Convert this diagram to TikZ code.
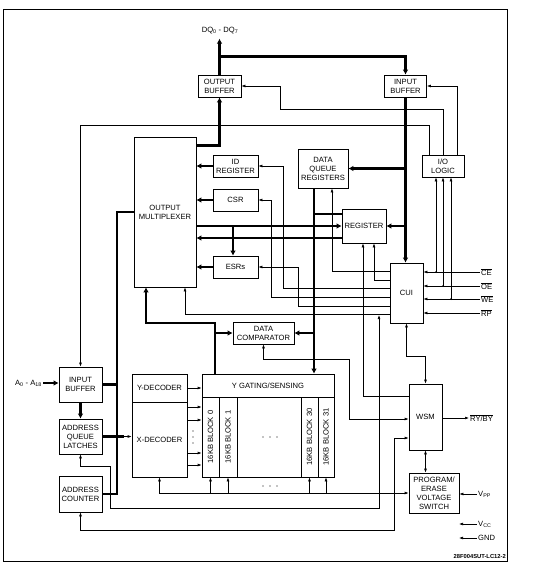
\documentclass[tikz,border=0pt]{standalone}
\usepackage{fontspec}
\setmainfont{Liberation Sans}
\usetikzlibrary{arrows.meta,positioning,calc}

\tikzset{
  box/.style={draw, line width=0.6pt, align=center, inner sep=1pt,
    font=\fontsize{7.6}{9}\selectfont},
  lbl/.style={inner sep=1pt, font=\fontsize{7.6}{9}\selectfont},
  sig/.style={line width=0.6pt},
  bus/.style={line width=2.6pt},
  sigto/.style={-{Latex[length=4pt,width=2.8pt]}},
  sigboth/.style={{Latex[length=4pt,width=2.8pt]}-{Latex[length=4pt,width=2.8pt]}},
  busto/.style={-{Latex[length=5pt,width=5.5pt]}},
}
\newcommand{\ovl}[1]{$\overline{\mbox{#1}}$}

\begin{document}
\begin{tikzpicture}[x=1pt, y=-1pt]
\useasboundingbox (0,0) rectangle (534,570);
\draw[line width=0.6pt] (3,9) rectangle (507,561);

% buffers and registers
\node[box, minimum width=43, minimum height=22] (obuf) at (219.5,86) {OUTPUT\\BUFFER};
\node[box, minimum width=42, minimum height=22] (ibuf) at (405.5,86) {INPUT\\BUFFER};
\node[box, minimum width=62, minimum height=150] (mux) at (165,212) {OUTPUT\\MULTIPLEXER};
\node[box, minimum width=45, minimum height=22] (idreg) at (235.5,166) {ID\\REGISTER};
\node[box, minimum width=45, minimum height=22] (csr) at (235.5,200) {CSR};
\node[box, minimum width=45, minimum height=22] (esr) at (235.5,267) {ESRs};
\node[box, minimum width=50, minimum height=39] (dqr) at (323,168.5) {DATA\\QUEUE\\REGISTERS};
\node[box, minimum width=44, minimum height=34] (reg) at (364,226) {REGISTER};
\node[box, minimum width=42, minimum height=22] (iol) at (443,166) {I/O\\LOGIC};
\node[box, minimum width=33, minimum height=60] (cui) at (406.5,293) {CUI};
\node[box, minimum width=61, minimum height=22] (dcmp) at (263.5,333) {DATA\\COMPARATOR};

% address path
\node[box, minimum width=43, minimum height=35] (aibuf) at (80.5,384.5) {INPUT\\BUFFER};
\node[box, minimum width=43, minimum height=35] (aql) at (80.5,436.5) {ADDRESS\\QUEUE\\LATCHES};
\node[box, minimum width=43, minimum height=36] (acnt) at (80.5,494) {ADDRESS\\COUNTER};
\node[box, minimum width=55, minimum height=28] (ydec) at (159.5,388) {Y-DECODER};
\node[box, minimum width=55, minimum height=75] (xdec) at (159.5,439.5) {X-DECODER};

% array
\node[box, minimum width=132, minimum height=23] (ygs) at (268,385.5) {Y GATING/SENSING};
\node[box, minimum width=17, minimum height=80] (blk0) at (210.5,437) {};
\node[box, minimum width=18, minimum height=80] (blk1) at (228,437) {};
\node[box, minimum width=17, minimum height=80] (blk30) at (309.5,437) {};
\node[box, minimum width=16, minimum height=80] (blk31) at (326,437) {};
\node[lbl, rotate=90] (t0) at (blk0) {16KB BLOCK 0};
\node[lbl, rotate=90] (t1) at (blk1) {16KB BLOCK 1};
\node[lbl, rotate=90] (t30) at (blk30) {16KB BLOCK 30};
\node[lbl, rotate=90] (t31) at (blk31) {16KB BLOCK 31};
\draw[line width=0.6pt] (blk1.south east) -- (blk30.south west);
\foreach \x in {263,270,277} {
  \fill (\x,437) circle (0.6pt);
  \fill (\x,486) circle (0.6pt);
}
\foreach \y in {431,437,443}
  \fill (193,\y) circle (0.6pt);

% state machine
\node[box, minimum width=33, minimum height=66] (wsm) at (425.5,417) {WSM};
\node[box, minimum width=50, minimum height=40] (pevs) at (434,493) {PROGRAM/\\ERASE\\VOLTAGE\\SWITCH};

% pins
\node[lbl] (dqlab) at (220,31) {DQ\textsubscript{0} - DQ\textsubscript{7}};
\node[lbl, anchor=east] (alab) at (43,383) {A\textsubscript{0} - A\textsubscript{18}};
\node[lbl, anchor=west] (ce) at (480,272) {\ovl{CE}};
\node[lbl, anchor=west] (oe) at (480,286) {\ovl{OE}};
\node[lbl, anchor=west] (we) at (480,299) {\ovl{WE}};
\node[lbl, anchor=west] (rp) at (480,313) {\ovl{RP}};
\node[lbl, anchor=west] (ry) at (469,418) {\ovl{RY/BY}};
\node[lbl, anchor=west] (vpp) at (477,494) {V\textsubscript{PP}};
\node[lbl, anchor=west] (vcc) at (477,524) {V\textsubscript{CC}};
\node[lbl, anchor=west] (gnd) at (477,538) {GND};
\node[anchor=east, inner sep=0pt, font=\bfseries\fontsize{5.8}{6}\selectfont] (figid) at (506,556) {28F004SUT-LC12-2};

% data buses
\draw[bus, busto, shorten >=3pt] (obuf.north) -- (obuf.north |- dqlab.south);
\draw[bus, busto] ($(obuf.north)+(0,-18)$) -| (ibuf.north);
\draw[bus, busto] ([yshift=-9pt]mux.north east) -| (obuf.south);
\draw[bus, busto] (ibuf.south) -- (ibuf.south |- cui.north);
\draw[bus, busto] (ibuf.south |- dqr.east) -- (dqr.east);
\draw[bus, busto] (ibuf.south |- reg.east) -- (reg.east);
\draw[bus, busto] (314,0 |- dqr.south) -- (314,0 |- ygs.north);
\draw[bus] (314,214) -- (reg.west |- 0,214);
\draw[bus, busto] (314,0 |- dcmp.east) -- (dcmp.east);
\draw[bus, busto] (mux.east |- reg.west) -- (reg.west);
\draw[bus, busto] (reg.west |- 0,238) -- (mux.east |- 0,238);
\draw[bus, busto] (233,0 |- reg.west) -- (233,0 |- esr.north);
\draw[bus, busto] (idreg.west) -- (mux.east |- idreg.west);
\draw[bus, busto] (csr.west) -- (mux.east |- csr.west);
\draw[bus, busto] (esr.west) -- (mux.east |- esr.west);
\draw[bus, busto] (215,0 |- ygs.north) |- (146,323) -- (146,0 |- mux.south);
\draw[bus, busto] (215,0 |- dcmp.west) -- (dcmp.west);

% address buses
\draw[bus, busto] (alab.east) -- (aibuf.west |- alab.east);
\draw[bus, busto] (aibuf.south) -- (aql.north);
\draw[bus] (aibuf.east) -- (117,0 |- aibuf.east);
\draw[bus] (acnt.east) -| (117,0 |- mux.west) -- (mux.west);
\draw[bus] (aql.east) -- (124,0 |- aql.east);
\draw[sig, sigto] (124,0 |- aql.east) -- (xdec.west |- aql.east);

% i/o logic
\draw[sig, sigto] ([xshift=14pt]iol.north) |- (ibuf.east);
\draw[sig, sigto] (iol.north) |- (280,109) |- (obuf.east);
\draw[sig, sigto] ([xshift=-14pt]iol.north) -- ++(0,-29) -| (aibuf.north);
\foreach \p in {ce,oe,we,rp}
  \draw[sig, sigto] (\p.west) -- (cui.east |- \p.west);
\draw[sig, sigto] ([xshift=-7pt]iol.south |- ce.west) -- ([xshift=-7pt]iol.south);
\draw[sig, sigto] (iol.south |- oe.west) -- (iol.south);
\draw[sig, sigto] ([xshift=8pt]iol.south |- we.west) -- ([xshift=8pt]iol.south);
\fill ([xshift=-7pt]iol.south |- ce.west) circle (1pt)
      (iol.south |- oe.west) circle (1pt)
      ([xshift=8pt]iol.south |- we.west) circle (1pt);

% cui outputs
\draw[sig, sigto] (cui.west |- 0,271) -| (332,0 |- dqr.south);
\draw[sig, sigto] (cui.west |- 0,280) -| (374,0 |- reg.south);
\draw[sig, sigto] (cui.west |- 0,288) -| (283,0 |- idreg.east) -- (idreg.east);
\draw[sig, sigto] (cui.west |- 0,297) -| (271,0 |- csr.east) -- (csr.east);
\draw[sig, sigto] (cui.west |- 0,306) -| (298,0 |- esr.east) -- (esr.east);
\draw[sig, sigto] (cui.west |- 0,314) -| (185,0 |- mux.south);

% wsm
\draw[sig, sigto] (wsm.west |- 0,396) -| (363,0 |- reg.south);
\draw[sig, sigboth] (wsm.west |- 0,419) -| (349,359) -| (dcmp.south);
\draw[sig, sigboth] (cui.south) |- (wsm.north |- 0,356) -- (wsm.north);
\draw[sig, sigboth] (aql.south) |- (110,466) |- (379,508) -- (379,315);
\draw[sig, sigboth] (wsm.west |- 0,438) -| (394,530) -| (acnt.south);
\draw[sig, sigboth] (wsm.south) -- (wsm.south |- pevs.north);
\draw[sig, sigto] (wsm.east |- ry.west) -- (ry.west);

% decoders and voltage
\draw[sig, sigto] (ydec.east) -- (ygs.west |- ydec.east);
\foreach \y in {407,420,453,465}
  \draw[sig, sigto] (xdec.east |- 0,\y) -- (blk0.west |- 0,\y);
\draw[sig, sigboth] (pevs.west) -| (xdec.south);
\foreach \b in {blk0,blk1,blk30,blk31}
  \draw[sig, sigto] (\b.south |- pevs.west) -- (\b.south);
\draw[sig, sigto] (vpp.west) -- (pevs.east |- vpp.west);
\draw[sig, sigto] (vcc.west) -- ++(-18,0);
\draw[sig, sigto] (gnd.west) -- ++(-18,0);
\end{tikzpicture}
\end{document}
